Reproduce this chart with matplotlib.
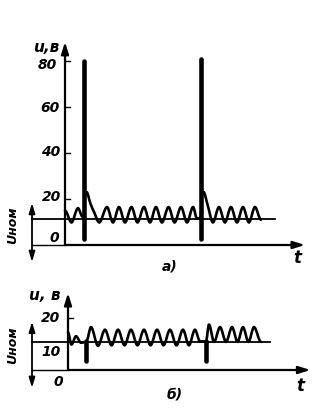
import matplotlib
matplotlib.use('Agg')
import matplotlib.pyplot as plt
from matplotlib.path import Path
import matplotlib.patches as mpatches

W, H = 323, 412

# --- chart a) : voltage with overvoltage spikes (time in arbitrary units)
a_t = [0.0, 0.54, 1.08, 1.42, 1.58, 1.64, 1.80, 2.12, 2.45, 2.85, 3.5, 4.0,
       4.5, 5.0, 5.54, 6.04, 6.58, 7.08, 7.58, 8.08, 8.63, 9.13, 9.67, 10.17,
       10.67, 11.0, 11.33, 11.39, 11.55, 11.88, 12.33, 12.83, 13.33, 13.83,
       14.33, 14.83, 15.33, 15.83, 16.33]
a_u = [15, 9.8, 16, 12.5, 12, 21, 23, 18, 14, 9.8, 16.5, 9.8,
       16.5, 9.8, 16.5, 9.8, 16.5, 9.8, 16.5, 9.8, 16.5, 9.8, 16.5, 9.8,
       16.5, 11.5, 12, 21, 23, 17.5, 9.8, 16.5, 9.8, 16.5,
       9.8, 16.5, 9.8, 16.5, 11]
a_spike_t = [1.58, 11.33]
a_spike_lo = [2.5, 2.5]
a_spike_hi = [80, 81]
a_unom = 11.3
a_ticks = [20, 40, 60, 80]
a_ticklabels = ['0', '20', '40', '60', '80']

# --- chart b) : voltage with dips
b_t = [0.0, 0.29, 0.67, 1.08, 1.54, 1.92, 2.5, 3.08, 3.63, 4.17, 4.71, 5.25,
       5.79, 6.33, 6.88, 7.42, 7.96, 8.5, 9.04, 9.58, 10.08, 10.58, 11.0, 11.5,
       11.75, 12.17, 12.67, 13.17, 13.67, 14.13, 14.58, 15.04, 15.5, 16.08]
b_u = [14.5, 9.8, 13, 10.5, 11, 16.5, 9.3, 15.5, 9.5, 15.5, 9.5, 15.5,
       9.5, 15.5, 9.5, 15.5, 9.5, 15.5, 9.5, 15.5, 9.5, 15.5, 11, 11,
       17.5, 10.8, 16.5, 10.8, 16.5, 10.8, 16.5, 10.8, 16.5, 10.8]
b_dip_t = [1.54, 11.5]
b_dip_lo = [3.5, 3.5]
b_dip_hi = [11, 11]
b_unom = 10.8
b_ticks = [20]


def smooth_path(t, u):
    # bezier through the read points, flat tangents at the extrema
    n = len(t)
    m = []
    for i in range(n):
        if i == 0 or i == n - 1:
            m.append(0.0)
            continue
        s1 = (u[i] - u[i-1]) / (t[i] - t[i-1])
        s2 = (u[i+1] - u[i]) / (t[i+1] - t[i])
        m.append(0.0 if s1 * s2 <= 0 else 2 * s1 * s2 / (s1 + s2))
    verts = [(t[0], u[0])]
    codes = [Path.MOVETO]
    for i in range(n - 1):
        d = (t[i+1] - t[i]) / 3
        verts += [(t[i] + d, u[i] + d * m[i]), (t[i+1] - d, u[i+1] - d * m[i+1]),
                  (t[i+1], u[i+1])]
        codes += [Path.CURVE4] * 3
    return Path(verts, codes)


txt = dict(family=['Liberation Sans Narrow', 'DejaVu Sans'], style='italic',
           fontweight='bold', color='black')


def ftext(x, y, s, **kw):
    k = dict(txt)
    k.update(kw)
    fig.text(x / W, 1 - y / H, s, ha='center', va='center', **k)


fig = plt.figure(figsize=(W / 100, H / 100), dpi=100)

# top axes: x=65px -> t=0, 12 px per unit; y=245px -> 0, 2.3 px per volt
ax1 = fig.add_axes([0, 1 - 285 / H, 1, 255 / H])
ax1.set_xlim((0 - 65) / 12, (W - 65) / 12)
ax1.set_ylim((245 - 285) / 2.3, (245 - 30) / 2.3)
ax1.axis('off')

# bottom axes: x=68px -> t=0; y=370px -> 0, 2.6 px per volt
ax2 = fig.add_axes([0, 0, 1, 127 / H])
ax2.set_xlim((0 - 68) / 12, (W - 68) / 12)
ax2.set_ylim((370 - 412) / 2.6, (370 - 285) / 2.6)
ax2.axis('off')

arrow = dict(arrowstyle='-|>,head_length=0.7,head_width=0.22', lw=1.6,
             color='black', shrinkA=0, shrinkB=0)
darrow = dict(arrowstyle='<|-|>,head_length=0.6,head_width=0.18', lw=1.3,
              color='black', shrinkA=0, shrinkB=0)

for ax, t, u, st, slo, shi, unom, ticks, ytop, xend, lstart, lend, dlo, dhi in [
        (ax1, a_t, a_u, a_spike_t, a_spike_lo, a_spike_hi, a_unom, a_ticks,
         88.3, 20.0, -2.75, 17.5, -7.4, 18.3),
        (ax2, b_t, b_u, b_dip_t, b_dip_lo, b_dip_hi, b_unom, b_ticks,
         29.6, 20.2, -3.0, 16.8, -6.9, 18.6)]:
    # axes with arrows
    ax.annotate('', xy=(0, ytop), xytext=(0, 0), arrowprops=arrow)
    ax.annotate('', xy=(xend, 0), xytext=(0, 0), arrowprops=arrow)
    for v in ticks:
        ax.plot([0, 0.42], [v, v], color='black', lw=1.0)
    # nominal voltage line and the dimension arrow on the left
    ax.plot([lstart, lend], [unom, unom], color='black', lw=1.3)
    ax.plot([lstart, 0], [0, 0], color='black', lw=1.0)
    ax.annotate('', xy=(lstart, dhi), xytext=(lstart, dlo), arrowprops=darrow)
    # signal
    ax.add_patch(mpatches.PathPatch(smooth_path(t, u), fill=False,
                                    lw=1.9, ec='black', capstyle='round',
                                    joinstyle='round'))
    ax.vlines(st, slo, shi, color='black', lw=3.3, capstyle='round')

# tick labels
for s, (x, y) in zip(a_ticklabels, [(54, 238), (52, 197), (51, 152), (50, 108), (47, 65)]):
    ftext(x, y, s, size=10)
for s, (x, y) in zip(['0', '10', '20'], [(58, 382), (51, 352), (51, 318)]):
    ftext(x, y, s, size=10)

ftext(46, 47, 'u,в', size=11)
ftext(45, 296, 'u, в', size=11)
ftext(13, 225, 'Uном', size=9, rotation=90)
ftext(13, 345, 'Uном', size=9, rotation=90)
ftext(297, 258, 't', size=12)
ftext(300, 386, 't', size=12)
ftext(170, 267, 'а)', size=10)
ftext(175, 395, 'б)', size=10)

fig.savefig('out.png', dpi=100, facecolor='white')
